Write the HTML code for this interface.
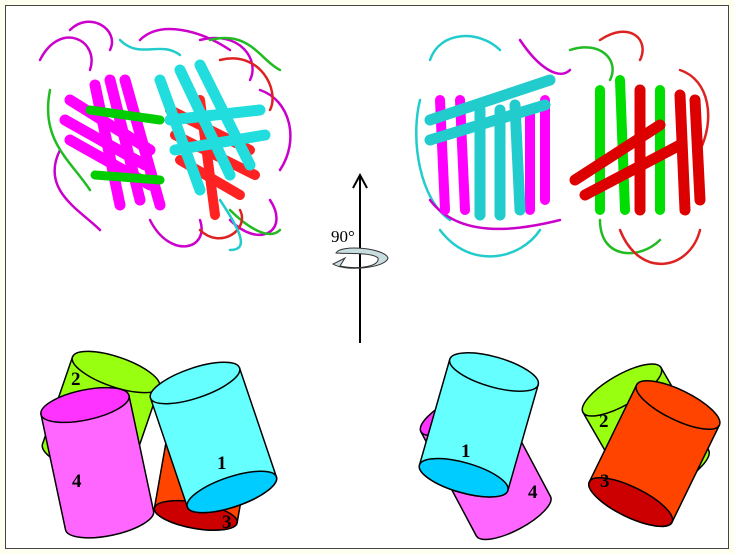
<!DOCTYPE html>
<html><head><meta charset="utf-8"><style>
html,body{margin:0;padding:0;background:#fffff0;}
svg{display:block}
text{font-family:"Liberation Serif",serif;font-weight:bold;font-size:19px;fill:#000}
</style></head><body>
<svg width="734" height="554" viewBox="0 0 734 554">
<rect x="0" y="0" width="734" height="554" fill="#fffff0"/>
<rect x="5.5" y="5.5" width="723" height="543" fill="#fff" stroke="#444" stroke-width="1"/>

<g stroke-linecap="round" fill="none">
<path d="M40,60 C60,20 100,40 90,70 M70,30 C90,10 120,30 110,50 M140,40 C160,20 200,30 230,50 M200,40 C240,30 260,60 250,80 M60,150 C40,190 80,210 100,230 M150,220 C170,260 210,250 200,220 M230,220 C260,250 290,230 270,200 M260,90 C290,100 300,140 280,170" stroke="#cc00cc" stroke-width="2.5"/>
<path d="M50,90 C40,140 70,160 90,190 M210,40 C250,30 260,60 280,70 M230,210 C250,230 270,240 280,230" stroke="#22bb22" stroke-width="2.5"/>
<path d="M220,60 C260,50 280,90 270,110 M200,230 C220,250 250,230 240,210" stroke="#dd2222" stroke-width="2.5"/>
<g stroke="#ff00ff" stroke-width="11">
<path d="M70,100 L150,150"/><path d="M65,120 L145,165"/><path d="M70,140 L150,185"/><path d="M110,80 L140,200"/><path d="M125,80 L160,205"/><path d="M95,85 L120,205"/>
</g>
<g stroke="#00cc00" stroke-width="9"><path d="M90,110 L160,120"/><path d="M95,175 L160,180"/></g>
<g stroke="#ff2222" stroke-width="10">
<path d="M170,110 L250,150"/><path d="M175,135 L255,175"/><path d="M180,160 L240,195"/><path d="M200,100 L215,215"/>
</g>
<g stroke="#22dddd" stroke-width="11">
<path d="M160,80 L200,190"/><path d="M180,70 L230,175"/><path d="M200,65 L250,165"/><path d="M170,120 L260,110"/><path d="M175,150 L265,135"/>
</g>
<path d="M120,40 C140,60 160,40 180,55 M220,200 C240,230 250,250 230,250" stroke="#22cccc" stroke-width="2.5"/>
</g>

<g stroke-linecap="round" fill="none">
<path d="M430,60 C440,30 480,30 500,50 M440,230 C470,270 520,260 540,230 M420,100 C410,140 420,200 450,220" stroke="#22cccc" stroke-width="2.5"/>
<path d="M520,40 C540,70 560,80 570,70 M430,200 C460,240 520,230 560,220" stroke="#cc00cc" stroke-width="2.5"/>
<path d="M570,50 C600,40 620,60 610,80 M600,220 C600,260 640,260 660,240" stroke="#22bb22" stroke-width="2.5"/>
<path d="M600,40 C630,20 650,40 640,60 M680,70 C710,80 715,120 700,150 M620,230 C640,280 690,270 700,230" stroke="#dd2222" stroke-width="2.5"/>
<g stroke="#ff00ff" stroke-width="10"><path d="M440,100 L445,210"/><path d="M460,100 L465,210"/><path d="M530,110 L530,210"/><path d="M545,100 L545,200"/></g>
<g stroke="#22cccc" stroke-width="11"><path d="M430,120 L550,80"/><path d="M430,140 L545,105"/><path d="M480,110 L480,215"/><path d="M500,110 L500,215"/><path d="M515,105 L520,210"/></g>
<g stroke="#00dd00" stroke-width="10"><path d="M600,90 L600,210"/><path d="M620,80 L625,210"/><path d="M660,90 L660,210"/></g>
<g stroke="#dd0000" stroke-width="11"><path d="M575,180 L660,125"/><path d="M585,195 L680,145"/><path d="M640,90 L640,210"/><path d="M680,95 L685,210"/><path d="M695,100 L700,200"/></g>
</g>

<g>
<line x1="360" y1="343" x2="360" y2="176" stroke="#000" stroke-width="2"/>
<path d="M353,188 L360,175 L367,188" fill="none" stroke="#000" stroke-width="2"/>
<path d="M336,253 C340,244 385,248 388,258 C386,268 345,272 333,264 L345,258 L340,266 C360,270 380,266 378,258 C372,252 345,254 336,253 Z" fill="#c8dde0" stroke="#333" stroke-width="1"/>
<text x="331" y="242" style="font-weight:normal;font-size:17px">90°</text>
</g>

<g transform="translate(116,372) rotate(19)">
<path d="M-46,0 L-46,92 A46,15 0 0 0 46,92 L46,0 Z" fill="#99ff11" stroke="#000" stroke-width="1.5"/>
<ellipse cx="0" cy="0" rx="46" ry="15" fill="#99ff11" stroke="#000" stroke-width="1.5"/>
</g>
<g transform="translate(214,412) rotate(10)">
<path d="M-42,0 L-42,105 A42,13 0 0 0 42,105 L42,0 Z" fill="#ff4400" stroke="#000" stroke-width="1.5"/>
<ellipse cx="0" cy="105" rx="42" ry="13" fill="#cc0000" stroke="#000" stroke-width="1.5"/>
</g>
<g transform="translate(85,405) rotate(-12)">
<path d="M-45,0 L-45,118 A45,15 0 0 0 45,118 L45,0 Z" fill="#ff66ff" stroke="#000" stroke-width="1.5"/>
<ellipse cx="0" cy="0" rx="45" ry="15" fill="#ff33ff" stroke="#000" stroke-width="1.5"/>
</g>
<g transform="translate(195,383) rotate(-18.7)">
<path d="M-47,0 L-47,115 A47,15 0 0 0 47,115 L47,0 Z" fill="#66ffff" stroke="#000" stroke-width="1.5"/>
<ellipse cx="0" cy="0" rx="47" ry="15" fill="#66ffff" stroke="#000" stroke-width="1.5"/>
<ellipse cx="0" cy="115" rx="47" ry="15" fill="#00ccff" stroke="#000" stroke-width="1.5"/>
</g>
<text x="71" y="385">2</text>
<text x="72" y="487">4</text>
<text x="217" y="469">1</text>
<text x="222" y="528">3</text>

<g transform="translate(458,412) rotate(-28)">
<path d="M-42,0 L-42,118 A42,14 0 0 0 42,118 L42,0 Z" fill="#ff66ff" stroke="#000" stroke-width="1.5"/>
<ellipse cx="0" cy="0" rx="42" ry="14" fill="#ff33ff" stroke="#000" stroke-width="1.5"/>
</g>
<g transform="translate(494,372) rotate(16)">
<path d="M-46,0 L-46,110 A46,15 0 0 0 46,110 L46,0 Z" fill="#66ffff" stroke="#000" stroke-width="1.5"/>
<ellipse cx="0" cy="0" rx="46" ry="15" fill="#66ffff" stroke="#000" stroke-width="1.5"/>
<ellipse cx="0" cy="110" rx="46" ry="15" fill="#00ccff" stroke="#000" stroke-width="1.5"/>
</g>
<g transform="translate(622,390) rotate(-30)">
<path d="M-45,0 L-45,95 A45,15 0 0 0 45,95 L45,0 Z" fill="#99ff11" stroke="#000" stroke-width="1.5"/>
<ellipse cx="0" cy="0" rx="45" ry="15" fill="#99ff11" stroke="#000" stroke-width="1.5"/>
</g>
<g transform="translate(678,405) rotate(26)">
<path d="M-46,0 L-46,108 A46,15 0 0 0 46,108 L46,0 Z" fill="#ff4400" stroke="#000" stroke-width="1.5"/>
<ellipse cx="0" cy="0" rx="46" ry="15" fill="#ff4400" stroke="#000" stroke-width="1.5"/>
<ellipse cx="0" cy="108" rx="46" ry="15" fill="#cc0000" stroke="#000" stroke-width="1.5"/>
</g>
<text x="461" y="457">1</text>
<text x="528" y="498">4</text>
<text x="599" y="427">2</text>
<text x="600" y="487">3</text>
</svg>
</body></html>
